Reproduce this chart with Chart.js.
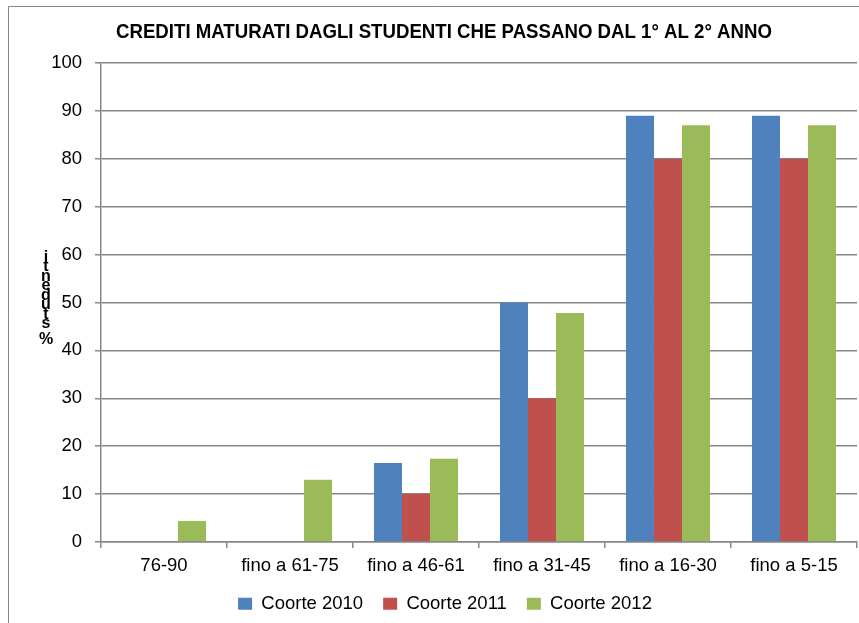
<!DOCTYPE html>
<html><head><meta charset="utf-8">
<script src="https://cdn.jsdelivr.net/npm/chart.js@4.4.0/dist/chart.umd.min.js"></script>
<style>html,body{margin:0;padding:0;background:#fff}#wrap{width:859px;height:623px;position:relative}</style>
</head><body><div id="wrap"><canvas id="c" width="859" height="623"></canvas></div>
<script>
const categories = ['76-90', 'fino a 61-75', 'fino a 46-61', 'fino a 31-45', 'fino a 16-30', 'fino a 5-15'];
const coorte2010 = [0, 0, 16.5, 50, 89, 89];
const coorte2011 = [0, 0, 10, 30, 80, 80];
const coorte2012 = [4.4, 13, 17.4, 47.8, 87, 87];
const seriesNames = ['Coorte 2010', 'Coorte 2011', 'Coorte 2012'];
const seriesColors = ['#4F81BD', '#C0504D', '#9BBB59'];
const yMin = 0, yMax = 100, yStep = 10;
const titleText = 'CREDITI MATURATI DAGLI STUDENTI CHE PASSANO DAL 1° AL 2° ANNO';
const yAxisLabel = '%studenti';

const FAM = '"Liberation Sans", Arial, sans-serif';
const GRID = '#868686';

const decor = {
  id: 'decor',
  afterDraw(chart) {
    const ctx = chart.ctx;
    ctx.save();
    // outer frame (partially visible)
    ctx.strokeStyle = GRID;
    ctx.lineWidth = 1;
    ctx.beginPath();
    ctx.moveTo(8.5, 623);
    ctx.lineTo(8.5, 6.5);
    ctx.lineTo(859, 6.5);
    ctx.stroke();
    // title, condensed horizontally to the reference width
    ctx.font = 'bold 21px ' + FAM;
    const w = ctx.measureText(titleText).width;
    const sx = 656 / w;
    ctx.fillStyle = '#000';
    ctx.textAlign = 'center';
    ctx.textBaseline = 'alphabetic';
    ctx.save();
    ctx.translate(444, 38);
    ctx.scale(sx, 1);
    ctx.fillText(titleText, 0, 0);
    ctx.restore();
    // stacked y-axis label (bottom to top)
    ctx.font = 'bold 16px ' + FAM;
    ctx.textBaseline = 'middle';
    const chars = yAxisLabel.split('');
    let y = 339.5;
    chars.forEach((ch, i) => {
      ctx.fillText(ch, 46, y);
      y -= (i === 0 ? 15.5 : 9.55);
    });
    ctx.restore();
  }
};

new Chart(document.getElementById('c'), {
  type: 'bar',
  data: {
    labels: categories,
    datasets: [
      { label: seriesNames[0], data: coorte2010, backgroundColor: seriesColors[0] },
      { label: seriesNames[1], data: coorte2011, backgroundColor: seriesColors[1] },
      { label: seriesNames[2], data: coorte2012, backgroundColor: seriesColors[2] }
    ]
  },
  options: {
    responsive: false,
    animation: false,
    devicePixelRatio: 1,
    categoryPercentage: 0.667,
    barPercentage: 1,
    layout: { padding: { left: 33, right: 2, top: 63, bottom: 0 } },
    plugins: {
      legend: {
        position: 'bottom',
        labels: { font: { family: FAM, size: 18.5 }, color: '#000', boxWidth: 14, boxHeight: 12, padding: 20 }
      },
      title: { display: false },
      tooltip: { enabled: false }
    },
    scales: {
      x: {
        grid: { display: true, drawOnChartArea: false, tickLength: 6, color: GRID, lineWidth: 1.5, offset: true },
        border: { color: GRID, width: 1.5 },
        ticks: { font: { family: FAM, size: 18.5 }, color: '#000', padding: 7, maxRotation: 0, autoSkip: false },
        afterFit(s) { s.height = 32.5; }
      },
      y: {
        min: yMin, max: yMax,
        ticks: { stepSize: yStep, font: { family: FAM, size: 18.5 }, color: '#000', padding: 13 },
        grid: { color: GRID, lineWidth: 1.5, tickLength: 6 },
        border: { color: GRID, width: 1.5 },
        afterFit(s) { s.width = 68; }
      }
    }
  },
  plugins: [decor]
});
</script>
</body></html>
